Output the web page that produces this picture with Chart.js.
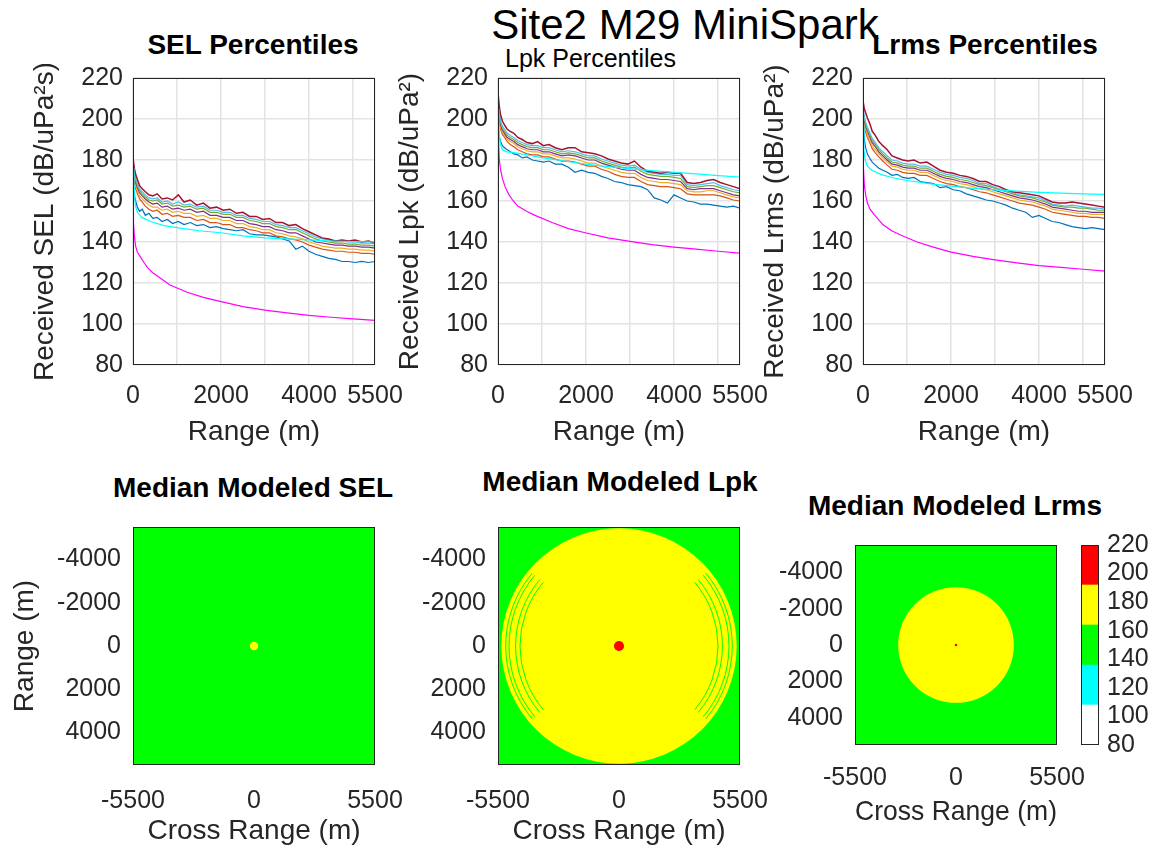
<!DOCTYPE html>
<html>
<head>
<meta charset="utf-8">
<script src="https://cdn.jsdelivr.net/npm/chart.js@4.4.0/dist/chart.umd.min.js"></script>
<style>
  body { margin: 0; background: #fff; width: 1161px; height: 852px; position: relative; overflow: hidden;
         font-family: "Liberation Sans", Arial, sans-serif; }
  canvas { position: absolute; }
  .t { position: absolute; white-space: nowrap; transform: translate(-50%, -50%); color: #000; line-height: 1; }
  .b { font-weight: bold; font-size: 28px; }
</style>
</head>
<body>
<div class="t" style="left:685px;top:25px;font-size:42px">Site2 M29 MiniSpark</div>
<div class="t b" style="left:253px;top:45px">SEL Percentiles</div>
<div class="t" style="left:505px;top:58px;font-size:25px;transform:translate(0,-50%)">Lpk Percentiles</div>
<div class="t b" style="left:985px;top:45px">Lrms Percentiles</div>
<div class="t b" style="left:253px;top:488px">Median Modeled SEL</div>
<div class="t b" style="left:620px;top:482px">Median Modeled Lpk</div>
<div class="t b" style="left:955px;top:506px">Median Modeled Lrms</div>

<canvas id="selPct"></canvas>
<canvas id="lpkPct"></canvas>
<canvas id="lrmsPct"></canvas>
<canvas id="selMap"></canvas>
<canvas id="lpkMap"></canvas>
<canvas id="lrmsMap"></canvas>
<canvas id="cbar"></canvas>

<script>
// ---- percentile curves (range in m, level in dB) ----
const rangeM = [0, 30, 60, 100, 150, 210, 280, 360, 450, 550, 660, 780, 900, 1030, 1160, 1300, 1450, 1600, 1750, 1900,
  2050, 2200, 2350, 2500, 2650, 2800, 2950, 3100, 3250, 3400, 3550, 3700, 3850, 4000, 4150, 4300, 4450, 4600, 4750, 4900,
  5050, 5200, 5350, 5500];

const selBlue = [168, 163, 160, 157, 155, 156, 153, 154, 151.5, 152, 150, 151, 149, 150, 148.5, 149.5, 148, 148.5, 147, 147.5,
  146.5, 146, 145.5, 146, 144, 143.5, 143.5, 143, 142.5, 141.5, 140.5, 136.5, 138, 135.5, 134, 133, 132, 131.5, 130.5, 130.5,
  130, 130.5, 130, 130.5];
const selOrange = [175, 169.5, 166, 163.5, 161, 159.5, 157.5, 156, 155, 155.5, 153.5, 154, 152.5, 153, 152, 152, 150.5, 151, 149.5, 149.5,
  148.5, 148.5, 147, 147, 146, 145.5, 144.5, 144.5, 143, 142.5, 141.5, 141, 140, 138.5, 137.5, 136.5, 136, 135.5, 135.5, 135,
  135, 134.5, 134.5, 134];
const selYellow = [176, 171, 167.5, 165, 162.5, 161, 159.5, 158, 157, 157, 155.5, 156, 154.5, 155, 154, 154, 152.5, 153, 151.5, 151.5,
  150.5, 150.5, 149, 149, 147.5, 147, 146, 146, 144.5, 144, 143, 142.5, 141.5, 140, 139, 138, 137.5, 137, 137, 136.5,
  136.5, 136, 136, 135.5];
const selPurple = [177, 172, 169, 166.5, 164, 162.5, 161, 159.5, 158.5, 159, 157, 157.5, 156, 156.5, 155.5, 156, 154.5, 155, 153, 153,
  152, 152, 150.5, 150.5, 149, 148.5, 147.5, 147.5, 146, 145.5, 144.5, 144.5, 143, 141.5, 140, 139.5, 139, 138.5, 138.5, 138,
  138, 137.5, 137.5, 137];
const selGreen = [178, 173, 170, 167.5, 165, 163.5, 162, 160.5, 160, 160.5, 158.5, 159, 157.5, 158, 157, 157.5, 156, 156.5, 154.5, 154.5,
  153.5, 153.5, 152, 152, 150.5, 150, 149, 149, 147.5, 147, 146, 146, 144.5, 143, 141.5, 140.5, 140, 139.5, 139.5, 139,
  139, 138.5, 138.5, 138];
const selLightBlue = [179, 174, 171, 168.5, 166, 164.5, 163, 161.5, 161, 161.5, 159.5, 160, 158.5, 159.5, 158, 158.5, 157, 157.5, 155.5, 155.5,
  154.5, 154.5, 153, 153, 151.5, 151, 150, 150, 148.5, 148, 147, 147, 145.5, 144, 142.5, 141.5, 141, 140, 140.5, 140,
  140, 139.5, 139.5, 139];
const selDarkRed = [181, 176, 173, 170.5, 167.5, 166, 164.5, 163, 162.5, 163.5, 161, 161.5, 160.5, 163, 159.5, 160.5, 158, 159, 156.5, 157,
  155.5, 156, 154, 154.5, 152.5, 152.5, 151, 151.5, 149.5, 149.5, 148, 148.5, 146.5, 145, 143.5, 142, 141.5, 140.5, 141, 140.5,
  141, 140, 140.5, 139.5];

const lpkBlue = [195, 191, 189, 187, 186, 185, 184, 183, 182.5, 181, 181.5, 180, 179.5, 179, 179.5, 178, 178, 176.5, 174, 175,
  174, 173.5, 172, 171, 169.5, 169, 168, 167.5, 167, 165.5, 161.5, 160.5, 159, 163, 161.5, 160, 159.5, 158.5, 158.5, 158,
  157.5, 157, 157.5, 156.5];
const lpkOrange = [206, 199, 195, 192.5, 191, 189, 187.5, 186.5, 185, 184, 183, 182.5, 182.5, 181.5, 181.5, 180.5, 179.5, 179.5, 179, 178,
  177, 177, 175.5, 174.5, 173, 172, 171.5, 171.5, 169.5, 168, 167.5, 167, 167, 166.5, 166, 163.5, 163, 163, 163, 163,
  162.5, 161.5, 160.5, 160];
const lpkYellow = [207, 200, 196, 193.5, 192, 190, 189, 188, 186.5, 185.5, 184.5, 184, 184, 183, 183, 182, 181, 181, 180.5, 179.5,
  178.5, 178.5, 177, 176, 175, 174, 173.5, 173.5, 171.5, 170, 169.5, 169, 169, 168.5, 168, 165, 164.5, 164.5, 165, 165,
  164, 163, 162, 161.5];
const lpkPurple = [208, 201, 197, 194.5, 193, 191, 190, 189, 187.5, 186.5, 185.5, 185, 185, 184, 184, 183, 182, 182.5, 182, 181,
  180, 180, 178.5, 177.5, 176.5, 175.5, 175, 175, 173, 171.5, 171, 170.5, 170.5, 170, 169.5, 166, 165.5, 166, 166, 166,
  165, 164, 163, 162.5];
const lpkGreen = [209, 202, 198, 195.5, 194, 192, 191, 190, 188.5, 187.5, 186.5, 186, 186, 185, 185, 184, 183, 183.5, 183, 182,
  181, 181, 179.5, 178.5, 177.5, 176.5, 176, 176.5, 174.5, 173, 172.5, 172, 172, 171.5, 171, 167, 166.5, 167, 167.5, 167.5,
  166.5, 165.5, 164.5, 164];
const lpkLightBlue = [210, 203, 199, 196.5, 195, 193, 192, 191, 189.5, 188.5, 187.5, 187, 187, 186, 186, 185, 184, 184.5, 184, 183,
  182, 182, 180.5, 179.5, 178.5, 177.5, 177, 177.5, 175.5, 174, 173.5, 173, 173, 172.5, 172.5, 168, 167.5, 168, 168.5, 169,
  167.5, 166.5, 165.5, 165];
const lpkDarkRed = [213, 206, 202, 199, 197, 195, 194, 193, 191, 190, 188.5, 188, 189, 187, 187.5, 186, 185, 186, 186, 184,
  183.5, 183, 182, 180.5, 179.5, 178.5, 178, 179.5, 176.5, 174.5, 174, 173.5, 174, 173.5, 173.5, 169, 168.5, 169, 170, 170.5,
  169, 168, 167, 166];

const lrmsBlue = [200, 190, 186, 183, 181, 179, 177.5, 176, 175, 174, 172.5, 173, 171.5, 171, 171.5, 169.5, 169, 168.5, 166.5, 167,
  165.5, 165, 163.5, 162.5, 161.5, 160.5, 160, 159, 158, 156.5, 155.5, 154.5, 152, 153, 151.5, 150, 149.5, 148.5, 147.5, 147,
  146.5, 147, 146.5, 146];
const lrmsOrange = [202, 196.5, 193.5, 191, 188.5, 185.5, 183.5, 181.5, 179.5, 177.5, 175.5, 175, 174, 173.5, 173.5, 172.5, 172.5, 171, 169.5, 168.5,
  168, 167, 166.5, 165.5, 164.5, 164, 163, 162, 161, 160, 159, 158.5, 158, 157, 156, 154.5, 154, 153.5, 153, 152.5,
  152.5, 152, 152, 151.5];
const lrmsYellow = [203, 198, 195, 192.5, 190, 187, 185, 183, 181, 179, 177, 176.5, 175.5, 175, 175, 174, 174, 172.5, 171, 170,
  169.5, 168.5, 168, 167, 166, 165.5, 164.5, 163.5, 162.5, 161.5, 160.5, 160, 159.5, 158.5, 157.5, 156, 155.5, 155, 154.5, 154,
  154, 153.5, 153.5, 153.5];
const lrmsPurple = [204, 199, 196.5, 194, 191.5, 188.5, 186.5, 184, 182, 180, 178, 177.5, 176.5, 176, 176, 175, 175, 173.5, 172, 171,
  170.5, 169.5, 169, 168, 167, 166.5, 165.5, 164.5, 163.5, 162.5, 161.5, 161, 160.5, 159.5, 158.5, 157, 156.5, 156, 155.5, 155,
  155, 154.5, 154.5, 154.5];
const lrmsGreen = [205, 200, 197.5, 195, 192.5, 189.5, 187.5, 185, 183, 181, 179, 178.5, 177.5, 177, 177, 176, 176, 174.5, 173, 172,
  171.5, 170.5, 170, 169, 168, 167.5, 166.5, 165.5, 164.5, 163.5, 162.5, 162, 161.5, 160.5, 159.5, 158, 157.5, 157, 157, 156.5,
  156.5, 156, 155.5, 155.5];
const lrmsLightBlue = [206, 201, 198.5, 196, 193.5, 190.5, 188.5, 186, 184, 182, 180, 179.5, 178.5, 178, 178, 177, 177, 175.5, 174, 173,
  172.5, 171.5, 171, 170, 168.5, 168.5, 167, 166, 165, 164, 163, 162.5, 162, 161.5, 160, 158.5, 158, 157.5, 158, 157.5,
  157, 156.5, 156.5, 156];
const lrmsDarkRed = [209, 205, 203, 200.5, 198, 194, 192, 189, 187, 185, 182, 181, 180, 179.5, 180, 178.5, 179, 177, 175, 174,
  173.5, 172.5, 172, 171, 169.5, 169.5, 168, 167, 165.5, 164.5, 164, 163.5, 163, 162.5, 161, 159.5, 159, 159, 159.5, 159,
  158.5, 158, 157.5, 157];

// modelled curves (cyan, magenta)
const cyanRange = [0, 20, 50, 100, 200, 400, 700, 1000, 1500, 2000, 2500, 3000, 3500, 4000, 4500, 5000, 5500];
const selCyan = [176, 168, 158, 154.5, 152, 150, 148, 147, 145.5, 144.5, 143, 142, 141.5, 141, 140.5, 140.2, 140];
const lpkCyan = [205, 196, 188, 185, 184, 183.5, 182.3, 181.2, 179.5, 178, 176.8, 175.8, 174.8, 174, 173.2, 172.4, 171.7];
const lrmsCyan = [197, 185, 180, 177, 175, 173, 171.2, 170, 168.5, 167.3, 166.2, 165.4, 164.8, 164.2, 163.8, 163.5, 163.2];

const magentaRange = [0, 10, 30, 60, 100, 160, 250, 330, 450, 650, 840, 1230, 1600, 1980, 2500, 3000, 3500, 4000, 4500, 5000, 5500];
const selMagenta = [165, 150, 143, 138, 135, 133, 130, 127.5, 125, 122, 119, 115.5, 113, 111, 108.5, 106.8, 105.4, 104.2, 103.3, 102.5, 101.8];
const lpkMagenta = [204, 190, 180, 175, 171, 167, 163, 160.5, 157.5, 155, 153, 149.5, 146.5, 144.5, 142, 140.3, 138.7, 137.5, 136.5, 135.5, 134.6];
const lrmsMagenta = [187, 176, 168, 163, 159, 156, 153.5, 151.5, 148.5, 145.5, 143.5, 140, 137.5, 135.2, 133, 131.3, 129.8, 128.5, 127.6, 126.7, 125.8];

// axis ticks
const pctXGrid = [0, 1000, 2000, 3000, 4000, 5000, 5500];
const pctXLabels = [0, 2000, 4000, 5500];
const pctYTicks = [80, 100, 120, 140, 160, 180, 200, 220];
const mapXTicks = [-5500, 0, 5500];
const mapYTicks = [-4000, -2000, 0, 2000, 4000];

// ---- median modelled maps: range (m) where the median level leaves each colour band ----
const cbarEdges = [80, 108, 136, 164, 192, 220];
const selMapEdges = [190, 0];       // >164 dB inside 190 m, >192 dB nowhere
const lpkMapEdges = [5350, 230];
const lrmsMapEdges = [3150, 70];
const lpkArcRanges = [4500, 4700, 5000, 5150];   // green streaks inside the Lpk disc
const lpkArcHalfAngle = 40;                       // degrees either side of the cross-range axis

// ---- styles ----
const pctColors = ['#0072BD', '#D95319', '#EDB120', '#7E2F8E', '#77AC30', '#4DBEEE', '#A2142F'];
const bandColors = ['#FFFFFF', '#00FFFF', '#00FF00', '#FFFF00', '#FF0000'];
const axisColor = '#262626';
const gridColor = '#E3E3E3';
const tickFont = { size: 25 };
const labelFont = { size: 28 };

Chart.defaults.font.family = '"Liberation Sans", Arial, sans-serif';
Chart.defaults.color = axisColor;
Chart.defaults.animation = false;

const boxPlugin = {
  id: 'box',
  afterDatasetsDraw(chart) {
    const a = chart.chartArea, ctx = chart.ctx;
    ctx.save();
    ctx.strokeStyle = axisColor;
    ctx.lineWidth = 1;
    ctx.strokeRect(a.left + 0.5, a.top + 0.5, a.right - a.left - 1, a.bottom - a.top - 1);
    ctx.restore();
  }
};

// position a canvas so that its plot area lands on the given rectangle
function place(id, plot, yw, xh, pad, yRight) {
  const c = document.getElementById(id);
  const w = plot[2] - plot[0] + yw + pad.left + pad.right;
  const h = plot[3] - plot[1] + xh + pad.top + pad.bottom;
  c.width = w; c.height = h;
  c.style.left = (plot[0] - pad.left - (yRight ? 0 : yw)) + 'px';
  c.style.top = (plot[1] - pad.top) + 'px';
  return c;
}

const fixTicks = list => scale => { scale.ticks = list.map(v => ({ value: v })); };
// fixed scale size, and no extra room requested for overhanging labels
const fixSize = (dim, size) => s => {
  s[dim] = size;
  s.paddingLeft = s.paddingRight = s.paddingTop = s.paddingBottom = 0;
};

function percentilePanel(id, plot, yTitle, series, cyanVals, magentaVals) {
  const datasets = series.map((vals, i) => ({
    data: rangeM.map((r, k) => ({ x: r, y: vals[k] })),
    borderColor: pctColors[i], borderWidth: i === 6 ? 1.5 : 1.2, order: 20 - i
  }));
  datasets.push({ data: cyanRange.map((r, k) => ({ x: r, y: cyanVals[k] })), borderColor: '#00FFFF', borderWidth: 1.2, order: 5 });
  datasets.push({ data: magentaRange.map((r, k) => ({ x: r, y: magentaVals[k] })), borderColor: '#FF00FF', borderWidth: 1.2, order: 4 });

  const pad = { top: 14, right: 32, bottom: 0, left: 0 };
  const c = place(id, plot, 133, 90, pad);
  new Chart(c, {
    type: 'line',
    data: { datasets },
    options: {
      responsive: false, devicePixelRatio: 1,
      layout: { padding: pad },
      elements: { point: { radius: 0 }, line: { tension: 0 } },
      plugins: { legend: { display: false }, tooltip: { enabled: false } },
      scales: {
        x: {
          type: 'linear', min: 0, max: 5500,
          afterBuildTicks: fixTicks(pctXGrid),
          afterFit: fixSize('height', 90),
          ticks: { autoSkip: false, maxRotation: 0, padding: 16, font: tickFont,
                   callback: v => pctXLabels.includes(v) ? String(v) : '' },
          grid: { color: gridColor, lineWidth: 1.5, drawTicks: false },
          border: { display: false },
          title: { display: true, text: 'Range (m)', font: labelFont, padding: { top: 0, bottom: 6 } }
        },
        y: {
          min: 80, max: 220,
          afterBuildTicks: fixTicks(pctYTicks),
          afterFit: fixSize('width', 133),
          ticks: { autoSkip: false, padding: 10, font: tickFont, callback: v => String(v) },
          grid: { color: gridColor, lineWidth: 1.5, drawTicks: false },
          border: { display: false },
          title: { display: true, text: yTitle, font: labelFont, padding: { top: 28, bottom: 0 } }
        }
      }
    },
    plugins: [boxPlugin]
  });
}

percentilePanel('selPct', [133, 78, 375, 365], 'Received SEL (dB/uPa²s)',
  [selBlue, selOrange, selYellow, selPurple, selGreen, selLightBlue, selDarkRed], selCyan, selMagenta);
percentilePanel('lpkPct', [498, 78, 740, 365], 'Received Lpk (dB/uPa²)',
  [lpkBlue, lpkOrange, lpkYellow, lpkPurple, lpkGreen, lpkLightBlue, lpkDarkRed], lpkCyan, lpkMagenta);
percentilePanel('lrmsPct', [863, 78, 1105, 365], 'Received Lrms (dB/uPa²)',
  [lrmsBlue, lrmsOrange, lrmsYellow, lrmsPurple, lrmsGreen, lrmsLightBlue, lrmsDarkRed], lrmsCyan, lrmsMagenta);

// ---- maps ----
const radiusPx = (chart, r) => Math.abs(chart.scales.x.getPixelForValue(r) - chart.scales.x.getPixelForValue(0));

function mapPanel(id, plot, edges, opts) {
  const pad = { top: 14, right: 32, bottom: 0, left: 0 };
  const xh = opts.xh;
  const c = place(id, plot, 133, xh, pad);
  const bgPlugin = {
    id: 'bg',
    beforeDatasetsDraw(chart) {
      const a = chart.chartArea, ctx = chart.ctx;
      ctx.save();
      ctx.fillStyle = bandColors[2];
      ctx.fillRect(a.left, a.top, a.right - a.left, a.bottom - a.top);
      ctx.restore();
    },
    afterDatasetsDraw(chart) {
      if (!opts.arcs) return;
      const ctx = chart.ctx, a = chart.chartArea;
      const cx = chart.scales.x.getPixelForValue(0), cy = chart.scales.y.getPixelForValue(0);
      const h = lpkArcHalfAngle * Math.PI / 180;
      ctx.save();
      ctx.beginPath(); ctx.rect(a.left, a.top, a.right - a.left, a.bottom - a.top); ctx.clip();
      ctx.strokeStyle = bandColors[2];
      ctx.lineWidth = 1;
      opts.arcs.forEach(r => {
        const rp = radiusPx(chart, r);
        ctx.beginPath(); ctx.arc(cx, cy, rp, -h, h); ctx.stroke();
        ctx.beginPath(); ctx.arc(cx, cy, rp, Math.PI - h, Math.PI + h); ctx.stroke();
      });
      ctx.restore();
    }
  };
  const datasets = [
    { data: [{ x: 0, y: 0 }], backgroundColor: bandColors[4], borderWidth: 0,
      pointRadius: ctx => edges[1] > 0 ? radiusPx(ctx.chart, edges[1]) : 0 },
    { data: [{ x: 0, y: 0 }], backgroundColor: bandColors[3], borderWidth: 0,
      pointRadius: ctx => radiusPx(ctx.chart, edges[0]) }
  ];
  new Chart(c, {
    type: 'scatter',
    data: { datasets },
    options: {
      responsive: false, devicePixelRatio: 1,
      layout: { padding: pad },
      plugins: { legend: { display: false }, tooltip: { enabled: false } },
      scales: {
        x: {
          min: -5500, max: 5500,
          afterBuildTicks: fixTicks(mapXTicks),
          afterFit: fixSize('height', xh),
          ticks: { autoSkip: false, maxRotation: 0, padding: opts.xPad, font: tickFont, callback: v => String(v) },
          grid: { display: false, drawTicks: false },
          border: { display: false },
          title: { display: true, text: 'Cross Range (m)', font: labelFont, padding: { top: 0, bottom: opts.xTitlePad } }
        },
        y: {
          min: -5500, max: 5500, reverse: true,
          afterBuildTicks: fixTicks(mapYTicks),
          afterFit: fixSize('width', 133),
          ticks: { autoSkip: false, padding: 12, font: tickFont, callback: v => String(v) },
          grid: { display: false, drawTicks: false },
          border: { display: false },
          title: { display: !!opts.yTitle, text: opts.yTitle || '', font: labelFont, padding: { top: 8, bottom: 0 } }
        }
      }
    },
    plugins: [bgPlugin, boxPlugin]
  });
}

mapPanel('selMap', [133, 527, 375, 765], selMapEdges, { xh: 86, xPad: 21, xTitlePad: 3, yTitle: 'Range (m)' });
mapPanel('lpkMap', [498, 527, 740, 765], lpkMapEdges, { xh: 86, xPad: 21, xTitlePad: 3, arcs: lpkArcRanges });
mapPanel('lrmsMap', [855, 545, 1057, 745], lrmsMapEdges, { xh: 86, xPad: 18, xTitlePad: 2 });

// ---- colour bar ----
(function () {
  const pad = { top: 14, right: 0, bottom: 14, left: 0 };
  const c = place('cbar', [1081, 545, 1099, 745], 62, 0, pad, true);
  const datasets = bandColors.map((col, i) => ({
    data: [[cbarEdges[i], cbarEdges[i + 1]]], backgroundColor: col, borderWidth: 0,
    grouped: false, categoryPercentage: 1, barPercentage: 1
  }));
  new Chart(c, {
    type: 'bar',
    data: { labels: [''], datasets },
    options: {
      responsive: false, devicePixelRatio: 1,
      layout: { padding: pad },
      plugins: { legend: { display: false }, tooltip: { enabled: false } },
      scales: {
        x: { display: false },
        y: {
          position: 'right', min: 80, max: 220,
          afterBuildTicks: fixTicks(pctYTicks),
          afterFit: fixSize('width', 62),
          ticks: { autoSkip: false, padding: 8, font: tickFont, callback: v => String(v) },
          grid: { display: false, drawTicks: false },
          border: { display: false }
        }
      }
    },
    plugins: [boxPlugin]
  });
})();
</script>
</body>
</html>
